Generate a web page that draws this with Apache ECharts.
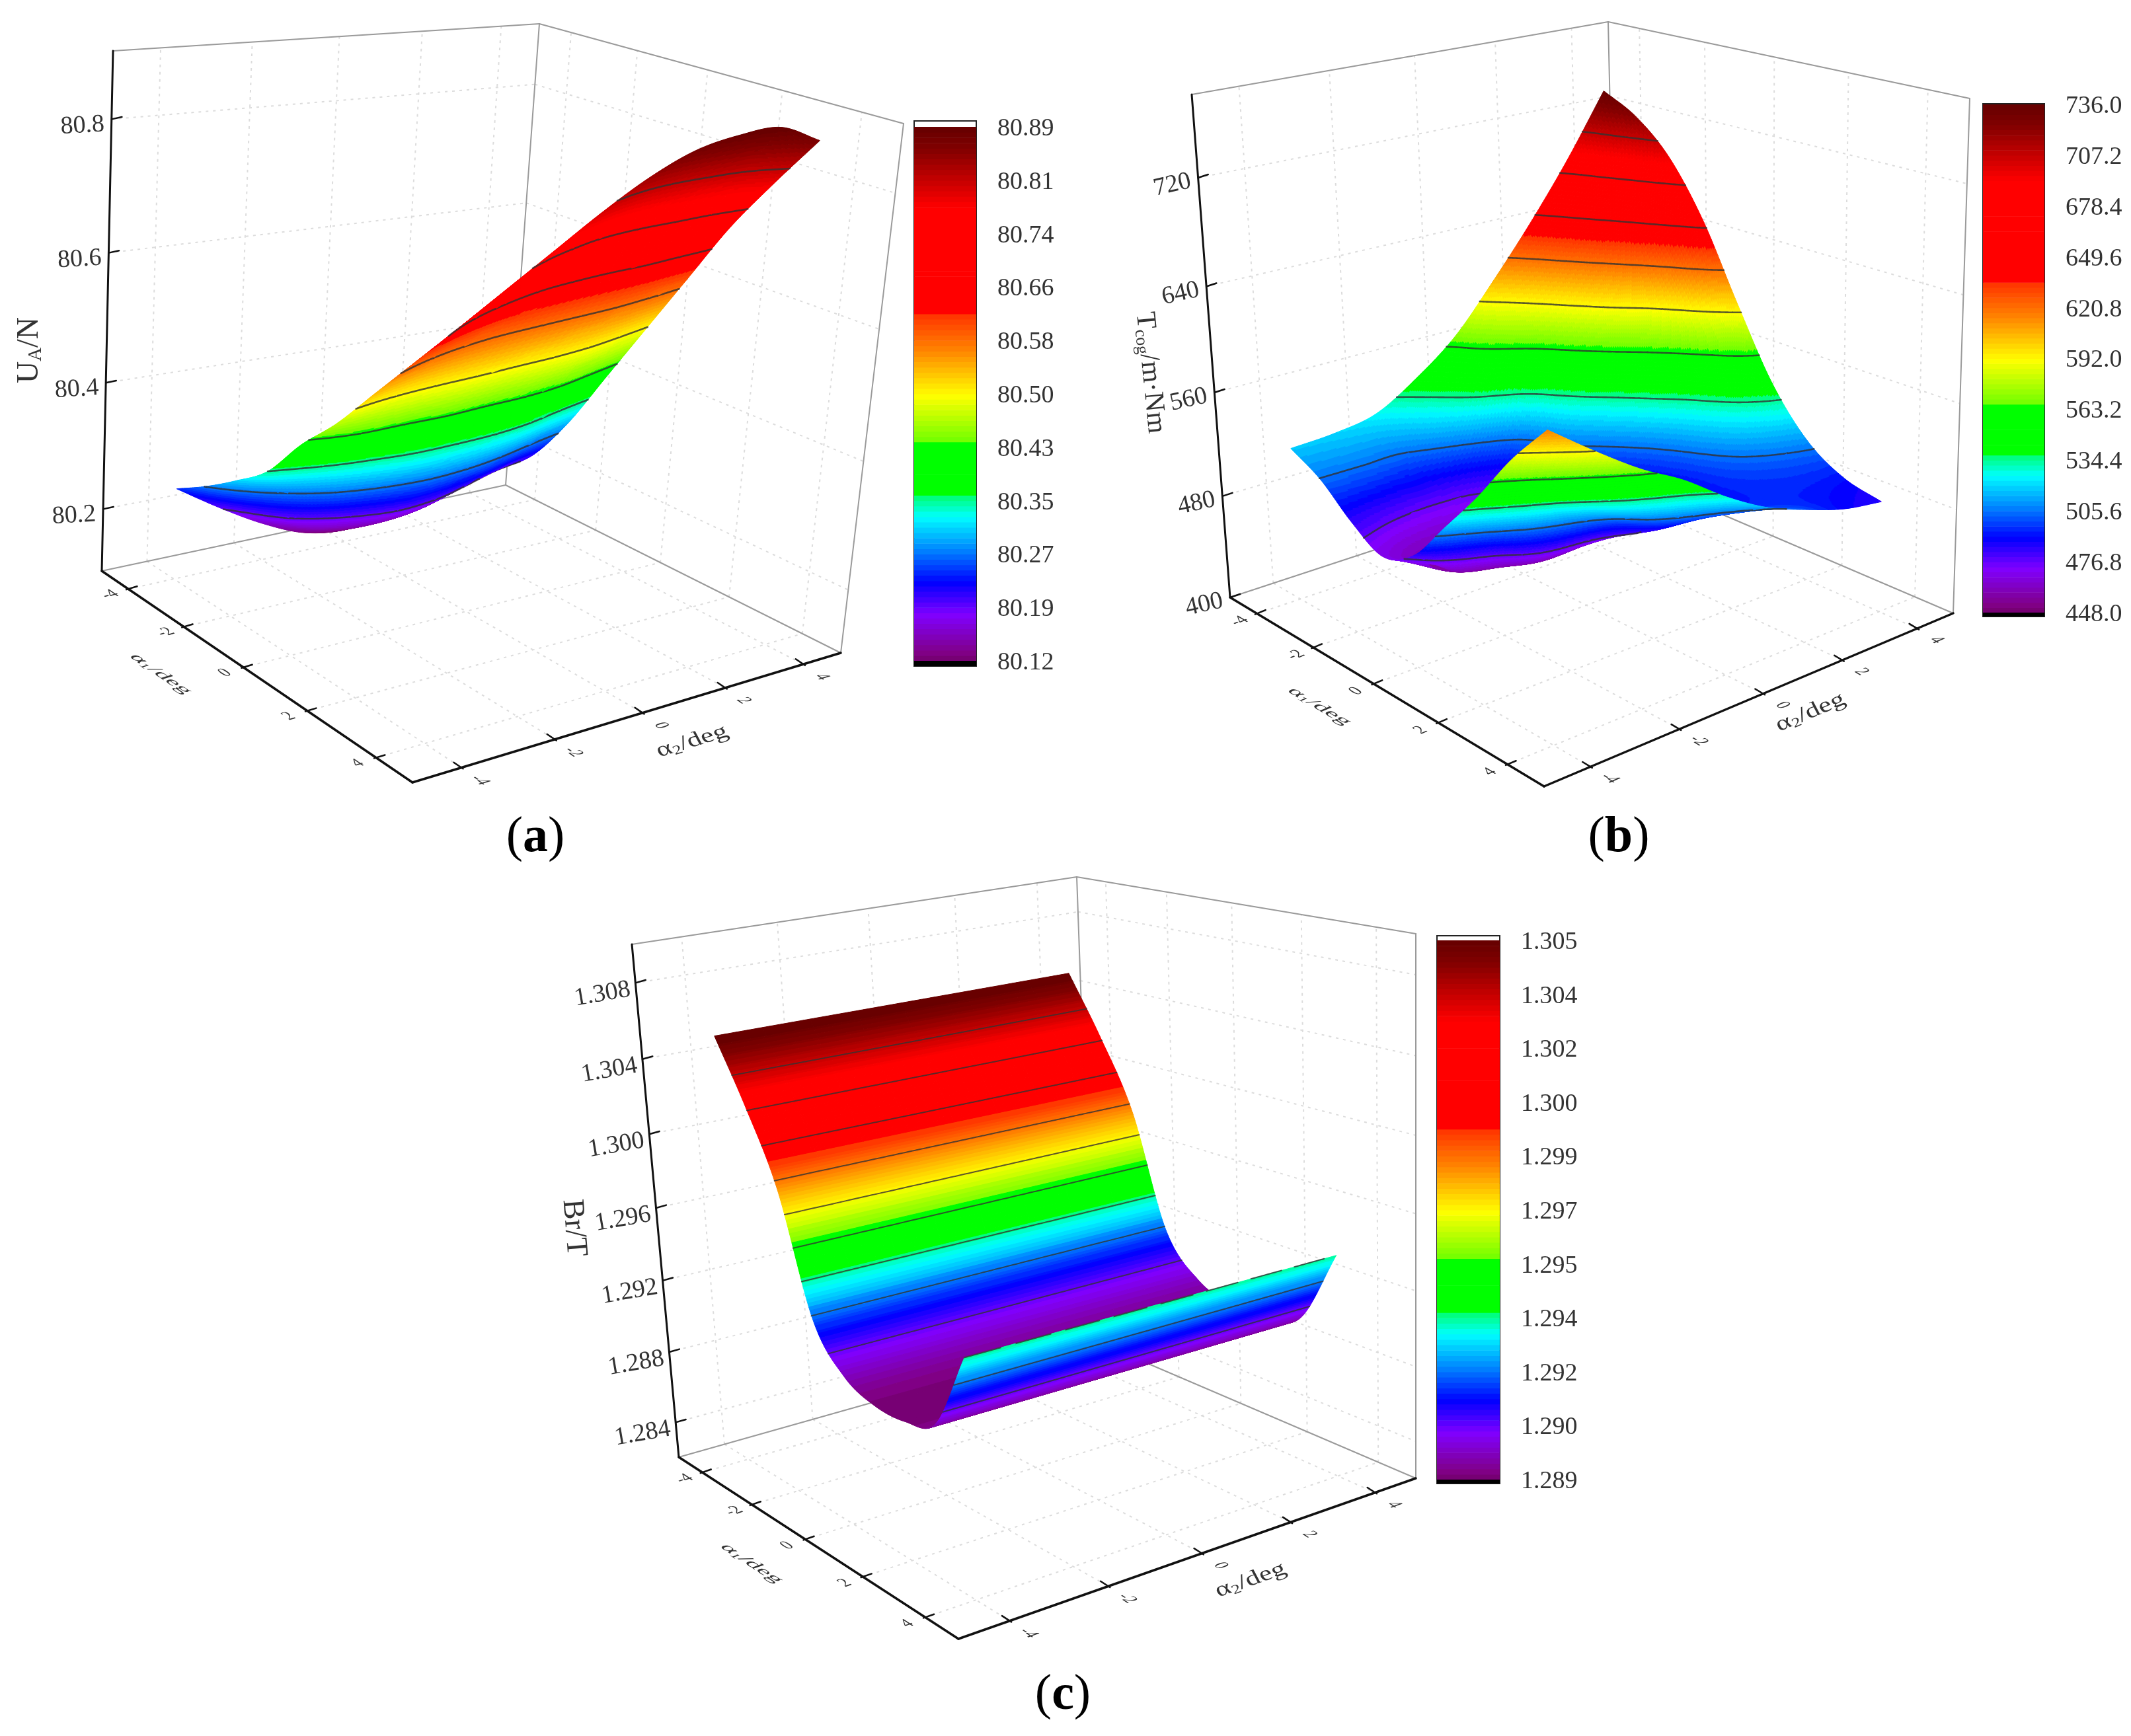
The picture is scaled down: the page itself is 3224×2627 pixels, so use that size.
<!DOCTYPE html>
<html><head><meta charset="utf-8">
<style>html,body{margin:0;padding:0;background:#fff}#c{width:3224px;height:2627px}#c canvas{filter:blur(0.7px)}</style>
<script src="https://cdn.jsdelivr.net/npm/echarts@6/dist/echarts.min.js"></script>
</head><body><div id="c"></div>
<script>
// ---------- data ----------
const angleGrid = [-4,-3,-2,-1,0,1,2,3,4];
const angleTicks = [-4,-2,0,2,4];
const angleTickLabels = ['-4','-2','0','2','4'];

const surfaceA = [
 [80.245,80.20,80.16,80.13,80.12,80.13,80.15,80.165,80.17],
 [80.275,80.235,80.195,80.17,80.16,80.165,80.185,80.205,80.22],
 [80.31,80.28,80.25,80.23,80.22,80.23,80.25,80.275,80.30],
 [80.35,80.335,80.32,80.31,80.31,80.32,80.34,80.37,80.40],
 [80.415,80.40,80.40,80.40,80.41,80.42,80.44,80.47,80.50],
 [80.47,80.48,80.49,80.50,80.515,80.53,80.55,80.575,80.60],
 [80.535,80.56,80.585,80.61,80.63,80.65,80.665,80.685,80.70],
 [80.60,80.635,80.67,80.705,80.74,80.765,80.78,80.79,80.785],
 [80.665,80.71,80.755,80.80,80.84,80.87,80.885,80.89,80.865]];
const zTicksA = [80.2,80.4,80.6,80.8];
const zLabelsA = ['80.2','80.4','80.6','80.8'];
const barLabelsA = ['80.12','80.19','80.27','80.35','80.43','80.50','80.58','80.66','80.74','80.81','80.89'];

const surfaceB = [
 [518,520,526,545,570,606,645,688,736],
 [505,505,505,520,546,574,616,664,722],
 [484,478,476,480,500,540,582,630,697],
 [470,460,460,470,490,512,544,587,655],
 [483,460,454,452,468,490,515,548,598],
 [515,495,472,468,470,482,500,522,545],
 [548,528,512,498,482,488,495,502,510],
 [585,560,538,518,503,496,495,494,492],
 [616,592,570,552,530,512,500,490,485]];
const zTicksB = [400,480,560,640,720];
const zLabelsB = ['400','480','560','640','720'];
const barLabelsB = ['448.0','476.8','505.6','534.4','563.2','592.0','620.8','649.6','678.4','707.2','736.0'];

const surfaceC = [
 [1.3052,1.3052,1.3052,1.3052,1.3052,1.3052,1.3052,1.3052,1.3052],
 [1.3020,1.3020,1.3020,1.3020,1.3020,1.3020,1.3020,1.3020,1.3020],
 [1.2982,1.2982,1.2982,1.2982,1.2982,1.2982,1.2982,1.2982,1.2982],
 [1.2920,1.2920,1.2920,1.2920,1.2920,1.2920,1.2920,1.2920,1.2920],
 [1.2898,1.2898,1.2898,1.2898,1.2898,1.2898,1.2898,1.2898,1.2898],
 [1.2891,1.2891,1.2891,1.2891,1.2891,1.2891,1.2891,1.2891,1.2891],
 [1.2891,1.2891,1.2891,1.2891,1.2891,1.2891,1.2891,1.2891,1.2891],
 [1.2898,1.2898,1.2898,1.2898,1.2898,1.2898,1.2898,1.2898,1.2898],
 [1.2938,1.2938,1.2938,1.2938,1.2938,1.2938,1.2938,1.2938,1.2938]];
const zTicksC = [1.284,1.288,1.292,1.296,1.300,1.304,1.308];
const zLabelsC = ['1.284','1.288','1.292','1.296','1.300','1.304','1.308'];
const barLabelsC = ['1.289','1.290','1.292','1.294','1.295','1.297','1.299','1.300','1.302','1.304','1.305'];

// colour map of the colour bars (position 0..1, colour)
const colourStops = [[0,'#70006c'],[0.012,'#800080'],[0.087,'#8000ff'],[0.147,'#0000ff'],[0.206,'#0080ff'],[0.27,'#00ffff'],[0.31,'#00ff70'],[0.312,'#00ff00'],[0.41,'#00ff00'],[0.411,'#70ff00'],[0.497,'#ffff00'],[0.585,'#ff8000'],[0.645,'#ff3800'],[0.646,'#ff0000'],[0.85,'#ff0000'],[0.905,'#c00000'],[0.96,'#800000'],[1,'#640000']];
const COLOUR_STEPS = 100;
const SUB = 32;

// ---------- layout ----------
const panels = [
 {id:'a',surface:surfaceA,zRange:[80.1,80.9],barRange:[80.12,80.89],zTicks:zTicksA,zLabels:zLabelsA,barLabels:barLabelsA,
  L:[154,864],F:[624,1184],R:[1272,988],B:[765,734],Lt:[171,77],Bt:[816,36],Rt:[1367,187],
  zLabelOff:[-44,10],zRot:0.06,
  a1Title:[243,1020],a2Title:[1047,1122],a1Sub:'1',a2Sub:'2',
  zTitle:{x:45,y:530,rot:Math.PI/2,text:'{n|U}{s|A}{n|/N}',size:46},
  caption:{x:810,y:1268,letter:'a'},
  bar:{x0:1383,x1:1477,top:183,bottom:1008,tickTop:192,tickBottom:1000,under:true,over:true}},
 {id:'b',surface:surfaceB,zRange:[400,780],barRange:[448,736],zTicks:zTicksB,zLabels:zLabelsB,barLabels:barLabelsB,
  L:[1861,904],F:[2336,1190],R:[2955,928],B:[2448,711],Lt:[1803,143],Bt:[2433,33],Rt:[2980,149],
  zLabelOff:[-39,11],zRot:0.22,
  a1Title:[1996,1069],a2Title:[2739,1078],a1Sub:'1',a2Sub:'2',
  zTitle:{x:1740,y:564,rot:-Math.PI/2+0.1,text:'{n|T}{s|cog}{n|/m·Nm}',size:42},
  caption:{x:2449,y:1268,letter:'b'},
  bar:{x0:3000,x1:3093,top:157,bottom:933,tickTop:158,tickBottom:927,under:true,over:false}},
 {id:'c',surface:surfaceC,zRange:[1.282,1.310],barRange:[1.289,1.305],zTicks:zTicksC,zLabels:zLabelsC,barLabels:barLabelsC,
  L:[1027,2205],F:[1450,2480],R:[2142,2237],B:[1654,2028],Lt:[956,1429],Bt:[1629,1327],Rt:[2142,1413],
  zLabelOff:[-50,17],zRot:0.17,
  a1Title:[1137,2366],a2Title:[1892,2391],a1Sub:'1',a2Sub:'2',
  zTitle:{x:868,y:1858,rot:-Math.PI/2+0.08,text:'{n|Br/T}',size:46},
  caption:{x:1608,y:2566,letter:'c'},
  bar:{x0:2174,x1:2269,top:1416,bottom:2245,tickTop:1423,tickBottom:2239,under:true,over:true}}
];
const SERIF = '"Liberation Serif","Times New Roman",serif';
const map = echarts.number.linearMap;

// ---------- colour helpers ----------
function hex(c){return [parseInt(c.substr(1,2),16),parseInt(c.substr(3,2),16),parseInt(c.substr(5,2),16)];}
function colourAt(t){
  t=Math.max(0,Math.min(1,t));
  for(let i=1;i<colourStops.length;i++){
    if(t<=colourStops[i][0]){
      const a=colourStops[i-1],b=colourStops[i],f=(t-a[0])/(b[0]-a[0]||1);
      const ca=hex(a[1]),cb=hex(b[1]);
      return 'rgb('+ca.map((v,k)=>Math.round(v+(cb[k]-v)*f)).join(',')+')';
    }
  }
  return colourStops[colourStops.length-1][1];
}
const palette=[];for(let i=0;i<COLOUR_STEPS;i++)palette.push(colourAt((i+0.5)/COLOUR_STEPS));

// ---------- geometry helpers ----------
function cross(a,b,c,d){
  const x1=a[0],y1=a[1],x2=b[0],y2=b[1],x3=c[0],y3=c[1],x4=d[0],y4=d[1];
  const den=(x1-x2)*(y3-y4)-(y1-y2)*(x3-x4);
  const p=x1*y2-y1*x2,q=x3*y4-y3*x4;
  return [(p*(x3-x4)-(x1-x2)*q)/den,(p*(y3-y4)-(y1-y2)*q)/den];
}
function squareToQuad(p0,p1,p2,p3){ // (0,0),(1,0),(1,1),(0,1)
  const dx1=p1[0]-p2[0],dx2=p3[0]-p2[0],sx=p0[0]-p1[0]+p2[0]-p3[0];
  const dy1=p1[1]-p2[1],dy2=p3[1]-p2[1],sy=p0[1]-p1[1]+p2[1]-p3[1];
  const det=dx1*dy2-dx2*dy1;
  const g=(sx*dy2-dx2*sy)/det,h=(dx1*sy-sx*dy1)/det;
  const a=p1[0]-p0[0]+g*p1[0],b=p3[0]-p0[0]+h*p3[0],c=p0[0];
  const d=p1[1]-p0[1]+g*p1[1],e=p3[1]-p0[1]+h*p3[1],f=p0[1];
  return (u,v)=>{const w=g*u+h*v+1;return [(a*u+b*v+c)/w,(d*u+e*v+f)/w];};
}
const DEPTH=0.945;
function makeProjection(p){
  const vp1=cross(p.L,p.F,p.B,p.R),vp2=cross(p.L,p.B,p.F,p.R);
  const Ft=cross(p.Lt,vp1,p.Rt,vp2);
  p.Ft=Ft;
  const floor=squareToQuad(p.L,p.F,p.R,p.B),top=squareToQuad(p.Lt,Ft,p.Rt,p.Bt);
  p.project=(a1,a2,z)=>{
    const u=map(a1,[-5,5],[0,1]),v=map(a2,[-5,5],[0,1]),s=map(z,p.zRange,[0,1]);
    const f=floor(u,v),t=top(u,v),w0=1-s,w1=s*DEPTH,w=w0+w1;
    return [(f[0]*w0+t[0]*w1)/w,(f[1]*w0+t[1]*w1)/w];
  };
  const d=(a,b)=>{const x=b[0]-a[0],y=b[1]-a[1],l=Math.hypot(x,y);return [x/l,y/l];};
  p.dirA1=d(p.L,p.F);p.dirA2=d(p.F,p.R);p.dirBack=d(p.L,p.B);
}
panels.forEach(makeProjection);

function line(a,b,stroke,width,dash){
  return {type:'line',silent:true,shape:{x1:a[0],y1:a[1],x2:b[0],y2:b[1]},
    style:{stroke:stroke,lineWidth:width,lineDash:dash||null,fill:null,lineCap:dash?'butt':'round'}};
}
// text whose local x axis goes along u and local "down" along v
function affineText(pos,style,u,v){
  const a=u[0],b=v[0],c=u[1],d=v[1];
  const E=(a+d)/2,F=(a-d)/2,G=(c+b)/2,H=(c-b)/2;
  const Q=Math.hypot(E,H),R=Math.hypot(F,G);
  const a1=Math.atan2(G,F),a2=Math.atan2(H,E);
  const theta=(a2-a1)/2,phi=(a2+a1)/2;
  return {type:'group',x:pos[0],y:pos[1],rotation:-phi,silent:true,children:[
    {type:'group',scaleX:Q+R,scaleY:Q-R,children:[
      {type:'text',rotation:-theta,silent:true,style:style}]}]};
}
function scale(v,k){return [v[0]*k,v[1]*k];}
function add(a,b){return [a[0]+b[0],a[1]+b[1]];}

// ---------- frame of a 3-D panel ----------
function renderFrame(p){
  const ch=[],P=p.project,zLo=p.zRange[0],zHi=p.zRange[1];
  const gridCol='#dcdcdc',dash=[4,7];
  angleTicks.forEach(t=>{
    ch.push(line(P(t,-5,zLo),P(t,5,zLo),gridCol,2,dash));   // floor, along a2
    ch.push(line(P(-5,t,zLo),P(5,t,zLo),gridCol,2,dash));   // floor, along a1
    ch.push(line(P(-5,t,zLo),P(-5,t,zHi),gridCol,2,dash));  // left wall
    ch.push(line(P(t,5,zLo),P(t,5,zHi),gridCol,2,dash));    // right wall
  });
  p.zTicks.forEach(z=>{
    ch.push(line(P(-5,-5,z),P(-5,5,z),gridCol,2,dash));
    ch.push(line(P(-5,5,z),P(5,5,z),gridCol,2,dash));
  });
  const g='#9a9a9a';
  ch.push(line(p.L,p.B,g,2),line(p.B,p.R,g,2),line(p.Lt,p.Bt,g,2),line(p.Bt,p.Rt,g,2),line(p.B,p.Bt,g,2),line(p.R,p.Rt,g,2));
  ch.push(line(p.L,p.Lt,'#111',3),line(p.L,p.F,'#111',3.5),line(p.F,p.R,'#111',3.5));
  const n1=p.dirA1,n2=p.dirA2;
  const txt='#333';
  angleTicks.forEach((t,i)=>{
    const q1=P(t,-5,zLo),q2=P(5,t,zLo);
    ch.push(line(add(q1,scale(n2,-3)),add(q1,scale(n2,14)),'#111',2.5));
    ch.push(line(add(q2,scale(n1,3)),add(q2,scale(n1,-14)),'#111',2.5));
    ch.push(affineText(add(q1,scale(n2,-29)),{text:angleTickLabels[i],font:'30px '+SERIF,fill:txt,align:'center',verticalAlign:'middle'},scale(n2,0.8),scale(n1,0.9)));
    ch.push(affineText(add(q2,scale(n1,34)),{text:angleTickLabels[i],font:'30px '+SERIF,fill:txt,align:'center',verticalAlign:'middle'},scale(n1,0.8),scale([-n2[0],-n2[1]],0.9)));
  });
  const rich=(size)=>({n:{font:size+'px '+SERIF,fill:txt},s:{font:Math.round(size*0.62)+'px '+SERIF,fill:txt,padding:[Math.round(size*0.42),0,0,0]}});
  ch.push(affineText(p.a1Title,{text:'{n|α}{s|'+p.a1Sub+'}{n|/deg}',rich:rich(40),align:'center',verticalAlign:'middle'},scale(n1,1.0),scale([-n2[0],-n2[1]],0.62)));
  ch.push(affineText(p.a2Title,{text:'{n|α}{s|'+p.a2Sub+'}{n|/deg}',rich:rich(40),align:'center',verticalAlign:'middle'},scale(n2,1.08),[0.38,0.72]));
  p.zTicks.forEach((z,i)=>{
    const q=P(-5,-5,z);
    ch.push(line(q,add(q,scale(p.dirBack,16)),'#111',2.5));
    ch.push({type:'text',silent:true,x:q[0]+p.zLabelOff[0],y:q[1]+p.zLabelOff[1],rotation:p.zRot,
      style:{text:p.zLabels[i],font:'38px '+SERIF,fill:txt,align:'center',verticalAlign:'middle'}});
  });
  const zt=p.zTitle;
  ch.push({type:'text',silent:true,x:zt.x,y:zt.y,rotation:zt.rot,style:{text:zt.text,rich:rich(zt.size),align:'center',verticalAlign:'middle'}});
  const cp=p.caption;
  ch.push({type:'text',silent:true,x:cp.x,y:cp.y,style:{text:'{n|(}{b|'+cp.letter+'}{n|)}',align:'center',verticalAlign:'middle',
    rich:{n:{font:'76px '+SERIF,fill:'#000'},b:{font:'bold 76px '+SERIF,fill:'#000'}}}});
  return {type:'group',children:ch};
}

// ---------- surface ----------
const PolyShape=echarts.graphic.extendShape({
  type:'polys',
  shape:{polys:[],closed:true},
  buildPath(ctx,shape){
    for(const q of shape.polys){
      ctx.moveTo(q[0],q[1]);
      for(let i=2;i<q.length;i+=2)ctx.lineTo(q[i],q[i+1]);
      if(shape.closed)ctx.closePath();
    }
  }
});
echarts.graphic.registerShape('polys',PolyShape);

function cellValue(m,i,j){
  const n=m.length-1;
  if(i<0)return 2*cellValue(m,0,j)-cellValue(m,1,j);
  if(i>n)return 2*cellValue(m,n,j)-cellValue(m,n-1,j);
  if(j<0)return 2*cellValue(m,i,0)-cellValue(m,i,1);
  if(j>n)return 2*cellValue(m,i,n)-cellValue(m,i,n-1);
  return m[i][j];
}
function cr(a,b,c,d,t){return 0.5*(2*b+(c-a)*t+(2*a-5*b+4*c-d)*t*t+(3*b-a-3*c+d)*t*t*t);}
function smooth(m,i,j,fi,fj){
  const r=[];
  for(let k=-1;k<=2;k++)r.push(cr(cellValue(m,i+k,j-1),cellValue(m,i+k,j),cellValue(m,i+k,j+1),cellValue(m,i+k,j+2),fj));
  return cr(r[0],r[1],r[2],r[3],fi);
}
function renderCell(p,params,api){
  const a1=api.value(0),a2=api.value(1);
  const i=angleGrid.indexOf(a1),j=angleGrid.indexOf(a2),m=p.surface;
  const lo=p.barRange[0],hi=p.barRange[1];
  const X=[],Z=[];
  for(let k=0;k<=SUB;k++){
    X.push([]);Z.push([]);
    for(let l=0;l<=SUB;l++){
      const fi=k/SUB,fj=l/SUB,z=smooth(m,i,j,fi,fj);
      Z[k].push(z);
      X[k].push(p.project(a1+(angleGrid[i+1]-a1)*fi,a2+(angleGrid[j+1]-a2)*fj,z));
    }
  }
  const bands=new Map(),contours=[];
  const step=(hi-lo)/10;
  for(let k=0;k<SUB;k++)for(let l=SUB-1;l>=0;l--){
    const zs=[Z[k][l],Z[k+1][l],Z[k+1][l+1],Z[k][l+1]],ps=[X[k][l],X[k+1][l],X[k+1][l+1],X[k][l+1]];
    const mean=(zs[0]+zs[1]+zs[2]+zs[3])/4;
    let c=Math.floor(map(mean,[lo,hi],[0,COLOUR_STEPS]));
    c=Math.max(0,Math.min(COLOUR_STEPS-1,c));
    if(!bands.has(c))bands.set(c,[]);
    bands.get(c).push([ps[0][0],ps[0][1],ps[1][0],ps[1][1],ps[2][0],ps[2][1],ps[3][0],ps[3][1]]);
    for(let lev=1;lev<=9;lev++){
      const L=lo+step*lev,pts=[];
      for(let e=0;e<4;e++){
        const za=zs[e],zb=zs[(e+1)%4];
        if((za<L)!==(zb<L)){
          const f=(L-za)/(zb-za),A=ps[e],B=ps[(e+1)%4];
          pts.push(A[0]+(B[0]-A[0])*f,A[1]+(B[1]-A[1])*f);
        }
      }
      if(pts.length>=4)contours.push(pts.slice(0,4));
    }
  }
  const ch=[];
  bands.forEach((polys,c)=>{
    ch.push({type:'polys',silent:true,shape:{polys:polys,closed:true},style:{fill:palette[c],stroke:palette[c],lineWidth:1}});
  });
  if(contours.length)ch.push({type:'polys',silent:true,shape:{polys:contours,closed:false},
    style:{fill:null,stroke:'rgba(50,50,50,0.8)',lineWidth:p.id==='c'?2:2.6,lineCap:'round'}});
  return {type:'group',children:ch};
}

// ---------- option ----------
const grids=[],xAxes=[],yAxes=[],series=[];
panels.forEach((p,idx)=>{
  const cells=[];
  for(let i=0;i<angleGrid.length-1;i++)for(let j=angleGrid.length-2;j>=0;j--)
    cells.push([angleGrid[i],angleGrid[j],p.surface[i][j]]);
  series.push({type:'custom',coordinateSystem:'none',silent:true,z:2,data:[0],renderItem:()=>renderFrame(p)});
  series.push({type:'custom',coordinateSystem:'none',silent:true,z:3,progressive:0,data:cells,
    dimensions:['a1','a2','value'],renderItem:(params,api)=>renderCell(p,params,api)});
  // colour bar: a real cartesian value axis
  const b=p.bar,lo=p.barRange[0],hi=p.barRange[1];
  const perPx=(hi-lo)/(b.tickBottom-b.tickTop);
  const yMin=lo-(b.bottom-b.tickBottom)*perPx,yMax=hi+(b.tickTop-b.top)*perPx;
  const ticks=p.barLabels.map((_,i)=>lo+(hi-lo)*i/10);
  grids.push({left:b.x0,top:b.top,width:b.x1-b.x0,height:b.bottom-b.top,show:true,backgroundColor:'#fff',borderColor:'#222',borderWidth:2,z:1});
  xAxes.push({gridIndex:idx,type:'value',min:0,max:1,show:false});
  yAxes.push({gridIndex:idx,type:'value',min:yMin,max:yMax,position:'right',scale:true,
    axisLine:{show:true,lineStyle:{color:'#222',width:2}},splitLine:{show:false},
    axisTick:{show:true,length:19,customValues:ticks,lineStyle:{color:'#444',width:2.5}},
    axisLabel:{show:true,customValues:ticks,margin:32,verticalAlign:'top',lineHeight:6,color:'#333',fontFamily:SERIF,fontSize:38,showMinLabel:true,showMaxLabel:true,hideOverlap:false,
      formatter:(v)=>p.barLabels[Math.round((v-lo)/(hi-lo)*10)]}});
  const bars=[];
  for(let i=0;i<COLOUR_STEPS;i++)bars.push([lo+(hi-lo)*i/COLOUR_STEPS,lo+(hi-lo)*(i+1)/COLOUR_STEPS,palette[i]]);
  if(b.under)bars.push([yMin,lo,'#000000']);
  series.push({type:'custom',xAxisIndex:idx,yAxisIndex:idx,silent:true,z:2,clip:true,progressive:0,data:bars,
    encode:{y:[0,1]},dimensions:['from','to','colour'],
    renderItem:(params,api)=>{
      const a=api.coord([0,api.value(0)]),c=api.coord([1,api.value(1)]);
      const col=bars[params.dataIndex][2];
      return {type:'rect',silent:true,shape:{x:a[0],y:c[1],width:c[0]-a[0],height:a[1]-c[1]+0.6},style:{fill:col}};
    }});
});
const chart=echarts.init(document.getElementById('c'),null,{renderer:'canvas',width:3224,height:2627});
chart.setOption({backgroundColor:'#fff',animation:false,grid:grids,xAxis:xAxes,yAxis:yAxes,series:series});
</script></body></html>
